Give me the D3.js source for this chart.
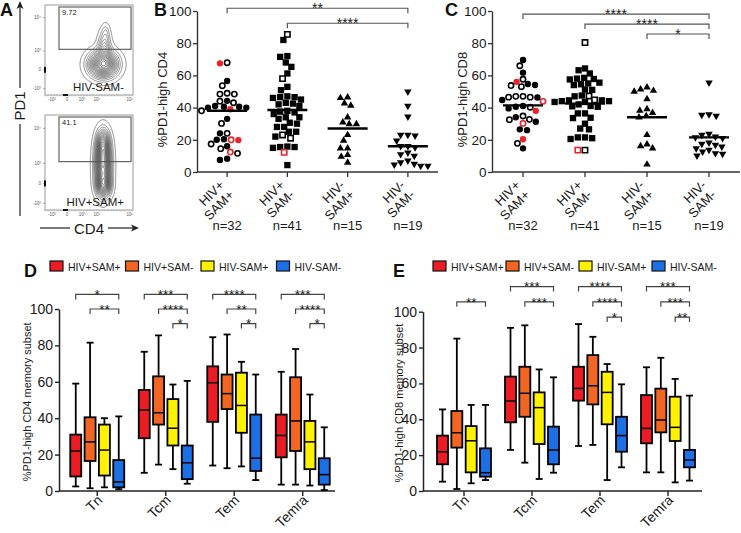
<!DOCTYPE html>
<html><head><meta charset="utf-8">
<script src="https://cdn.jsdelivr.net/npm/d3@7"></script>
<style>
body{margin:0;background:#fff}
svg{display:block}
text{font-family:"Liberation Sans",Arial,Helvetica,sans-serif;fill:#1a1a1a}
</style></head>
<body><svg id="c" width="741" height="533"></svg>
<script>
// ================= DATA =================
const scatterCats = [["HIV+","SAM+"],["HIV+","SAM-"],["HIV-","SAM+"],["HIV-","SAM-"]];
const scatterN = ["n=32","n=41","n=15","n=19"];
const scatterShapes = ["circle","square","triangle","triangleDown"];
const yTicks = [0,20,40,60,80,100];

// style: f = filled black, o = open black, rf = red filled, ro = red open
const cd4HivPosSamPos = [[67.9,"o"],[67.5,"rf"],[56.5,"f"],[53.6,"o"],[48.4,"o"],[48.9,"o"],[48.4,"o"],[44,"o"],[44.2,"f"],[43,"o"],[40.5,"f"],[40.5,"f"],[41,"f"],[40,"f"],[40,"f"],[39,"rf"],[38,"o"],[33,"f"],[30.2,"o"],[24,"o"],[24,"f"],[20.3,"f"],[20,"ro"],[20,"f"],[19.8,"rf"],[17.4,"o"],[16,"f"],[14.5,"o"],[11.6,"o"],[12.4,"ro"],[7.5,"f"],[8.3,"f"]];
const cd4HivPosSamNeg = [[85.5,"o"],[82,"f"],[72,"f"],[71.5,"f"],[68,"f"],[65.3,"f"],[61.2,"f"],[58,"o"],[52.9,"f"],[50.8,"f"],[47,"f"],[46.5,"f"],[46.5,"f"],[46,"f"],[45,"f"],[43,"f"],[42.5,"f"],[42,"f"],[41,"f"],[38,"f"],[37.5,"f"],[37,"f"],[36,"f"],[34,"f"],[34,"f"],[33,"f"],[30.6,"f"],[30,"f"],[28,"f"],[28,"f"],[25,"f"],[25,"f"],[23,"o"],[21,"o"],[22,"f"],[15.8,"f"],[15.5,"f"],[15.5,"f"],[15,"f"],[12.2,"ro"],[4.3,"f"]];
const cd4HivNegSamPos = [46.4,46,41.2,42.7,34,29.8,29.8,30.9,23,19.5,14.7,14.7,10.6,9.5,5.8];
const cd4HivNegSamNeg = [49.9,41,34.4,23,23,22.6,19.5,16,15.3,16.1,11,10,12,7,6,5,3.8,3.8,4.5];
const cd4Medians = [38,38.5,27,16];
const cd4Sig = [[0,3,"**"],[1,3,"****"]];
const cd4SigLevels = [101.7,92.4];

const cd8HivPosSamPos = [[69.6,"f"],[66,"o"],[61.7,"f"],[57.6,"o"],[56,"rf"],[54.7,"f"],[54,"f"],[53,"o"],[53.7,"o"],[47,"o"],[46.5,"o"],[46.5,"o"],[46.3,"f"],[47,"o"],[44.7,"f"],[43.9,"ro"],[41,"f"],[40.2,"o"],[40.5,"f"],[38,"rf"],[39.5,"f"],[32.7,"o"],[34.8,"o"],[32.5,"o"],[34,"f"],[31.2,"f"],[30.2,"ro"],[26,"f"],[26.5,"f"],[20.3,"rf"],[17.8,"o"],[14.7,"f"]];
const cd8HivPosSamNeg = [[80.4,"o"],[64.3,"f"],[63.2,"f"],[61.2,"f"],[58.5,"f"],[57.8,"f"],[58,"f"],[57.5,"f"],[55,"f"],[54.5,"f"],[54,"f"],[55.5,"f"],[51.2,"f"],[51,"f"],[47.5,"f"],[47,"f"],[47.2,"o"],[44.5,"f"],[44,"f"],[43.5,"f"],[43.5,"f"],[44,"f"],[44.5,"f"],[44.8,"o"],[42,"f"],[40.5,"f"],[40.8,"f"],[41,"f"],[36.4,"f"],[36.4,"f"],[33.7,"f"],[33.5,"f"],[30,"f"],[27,"f"],[26.5,"f"],[21.5,"f"],[20.5,"f"],[21,"f"],[21.5,"f"],[13.6,"o"],[13.6,"ro"]];
const cd8HivNegSamPos = [52.6,49.9,50.5,51.3,45.3,38.1,39.1,36.8,34.8,34,23,16.1,14.7,17.2,4.7];
const cd8HivNegSamNeg = [55.5,35.4,34.8,35.8,23.6,23,18.2,16.8,15.7,17.4,13.7,11.6,10.1,11.2,12.6,14.7,21,21.5,22];
const cd8Medians = [41.4,42.5,34,21.5];
const cd8Sig = [[0,3,"****"],[1,3,"****"],[2,3,"*"]];
const cd8SigLevels = [98.1,91.9,85.7];

// Box plots: [whiskerLow, Q1, median, Q3, whiskerHigh] per subset
const subsets = ["Tn","Tcm","Tem","Temra"];
const boxGroups = ["HIV+SAM+","HIV+SAM-","HIV-SAM+","HIV-SAM-"];
const boxColors = ["#ec1c24","#f26522","#fff200","#1d6fe6"];

const boxCD4HivPosSamPos = [[2.5,8,22,31,59],[10,29,44.5,55.5,76.5],[14,38,59.5,68.5,84.5],[3.5,18.5,30.5,42,65.5]];
const boxCD4HivPosSamNeg = [[1.5,16.5,27,40.5,81.5],[14.5,36.5,43,63,85.5],[12.5,45,53.5,64,86],[3.5,22,38.5,62.5,78]];
const boxCD4HivNegSamPos = [[2,8.5,22.5,36.5,40],[12,25,34.5,50.5,58.5],[13.5,32,47,65,71],[3,12,27,38.5,53]];
const boxCD4HivNegSamNeg = [[1,2,5,17,41],[4,6.5,15.5,25,60.5],[6,11,18,42,64],[0.5,3.5,9,18,35]];
// [subset, fromGroup, toGroup, level, label]
const boxCD4Sig = [[0,0,3,1,"*"],[0,1,3,2,"**"],[1,0,3,1,"***"],[1,1,3,2,"****"],[1,2,3,3,"*"],[2,0,3,1,"****"],[2,1,3,2,"**"],[2,2,3,3,"*"],[3,0,3,1,"***"],[3,1,3,2,"****"],[3,2,3,3,"*"]];
const boxCD4SigLevels = [108,100,92];

const boxCD8HivPosSamPos = [[5.2,14.9,21.9,30.9,45.5],[22.9,38.3,50.2,63.8,91],[25.1,50.4,57.2,69.3,93.1],[10.4,26.6,34.9,53.5,69]];
const boxCD8HivPosSamNeg = [[1.1,24.2,32.5,44.6,85],[15.8,41.4,54.5,69.3,92.4],[25.7,48.3,58.7,75.8,86],[10.4,32.7,39.6,57.1,74.3]];
const boxCD8HivNegSamPos = [[4.3,10.4,28,36.2,48],[6.7,26.2,46.5,55,67.8],[6.1,37.2,55,66.5,70.8],[4.8,27.9,35.5,52.6,62.5]];
const boxCD8HivNegSamNeg = [[6.1,8,10.2,23.8,48],[10.2,14.9,22.9,35.9,63.4],[13.2,21.9,30.9,41.4,59.5],[5.8,13.2,17.3,22.9,53.2]];
const boxCD8Sig = [[0,1,3,2,"**"],[1,0,3,1,"***"],[1,1,3,2,"***"],[2,0,3,1,"****"],[2,1,3,2,"****"],[2,2,3,3,"*"],[3,0,3,1,"***"],[3,1,3,2,"***"],[3,2,3,3,"**"]];
const boxCD8SigLevels = [114,105.5,97];

// Flow cytometry panel
const flowPercents = ["9.72","41.1"];
const flowLabels = ["HIV-SAM-","HIV+SAM+"];
// density blobs: [cx, cy, sx, sy, weight] in frame fractions
const flowBlobsTop = [[0.66,0.66,0.10,0.09,1],[0.675,0.47,0.045,0.11,0.32],[0.69,0.30,0.028,0.06,0.09]];
const flowBlobsBottom = [[0.66,0.52,0.055,0.17,1],[0.66,0.30,0.045,0.09,0.45],[0.665,0.74,0.05,0.07,0.55]];
const flowYTicks = ["10⁴","10³","0","-10³"];
const flowXTicks = ["-10³","0","10³","10⁴","10⁵"];

// ================= DRAW =================
const svg = d3.select("#c");

function letter(t,x,y){
  svg.append("text").attr("x",x).attr("y",y).text(t)
    .attr("font-size",18).attr("font-weight","bold").style("fill","#111");
}

// ---------- Panel A ----------
(function(){
  const g = svg.append("g");
  letter("A",0,16);
  const frames = [{y:5,h:90,blobs:flowBlobsTop},{y:115,h:95,blobs:flowBlobsBottom}];
  const fx=45, fw=88;
  const yFrac=[0.14,0.51,0.72,0.93];
  const xsPos=d3.scaleOrdinal().domain(flowXTicks).range([7,22,37,52,85]);
  frames.forEach((f,k)=>{
    const fg = g.append("g").attr("transform",`translate(${fx},${f.y})`);
    const nx=fw, ny=f.h, vals=new Float64Array(nx*ny);
    for(let j=0;j<ny;j++) for(let i=0;i<nx;i++){
      const u=(i+0.5)/nx, v=(j+0.5)/ny; let s=0;
      f.blobs.forEach(([cx,cy,sx,sy,w])=>{ s+=w*Math.exp(-((u-cx)**2/(2*sx*sx)+(v-cy)**2/(2*sy*sy))); });
      vals[j*nx+i]=s;
    }
    const mx=d3.max(vals);
    const th=d3.range(0.03,0.97,0.055).map(t=>t*mx);
    const cs=d3.contours().size([nx,ny]).thresholds(th)(vals);
    fg.selectAll("path.ct").data(cs).join("path").attr("class","ct")
      .attr("d",d3.geoPath()).attr("fill","none").attr("stroke","#333").attr("stroke-width",0.55);
    fg.append("rect").attr("width",fw).attr("height",f.h).attr("fill","none").attr("stroke","#9a9a9a").attr("stroke-width",1);
    fg.append("rect").attr("x",14).attr("y",2).attr("width",72).attr("height",f.h*0.47)
      .attr("fill","none").attr("stroke","#555").attr("stroke-width",1.1);
    fg.append("text").attr("x",17).attr("y",10).text(flowPercents[k]).attr("font-size",7.5);
    fg.append("text").attr("x",79).attr("y",f.h-4).attr("text-anchor","end").text(flowLabels[k])
      .attr("font-size",11.5).attr("font-family","'Open Sans',sans-serif");
    flowYTicks.forEach((t,i)=>{
      const yy = f.h*yFrac[i];
      fg.append("text").attr("x",-4).attr("y",yy+1.5).attr("text-anchor","end").attr("font-size",4.5).text(t).style("fill","#555");
      fg.append("line").attr("x1",-2).attr("x2",0).attr("y1",yy).attr("y2",yy).attr("stroke","#777").attr("stroke-width",0.6);
    });
    flowXTicks.forEach(t=>{
      fg.append("text").attr("x",xsPos(t)).attr("y",f.h+6).attr("text-anchor","middle").attr("font-size",4.5).text(t).style("fill","#555");
    });
    d3.range(0,fw,3).forEach(xx=>fg.append("line").attr("x1",xx).attr("x2",xx).attr("y1",f.h).attr("y2",f.h+1.5).attr("stroke","#888").attr("stroke-width",0.5));
    fg.append("rect").attr("x",-1).attr("y",f.h*0.72-3).attr("width",2).attr("height",6).attr("fill","#111");
    fg.append("rect").attr("x",18).attr("y",f.h-1).attr("width",5).attr("height",2).attr("fill","#111");
  });
  g.append("line").attr("x1",20).attr("x2",20).attr("y1",5).attr("y2",88).attr("stroke","#222").attr("stroke-width",1.2);
  g.append("path").attr("d","M20,1 L16.5,9 L20,7 L23.5,9 Z").attr("fill","#222");
  g.append("line").attr("x1",20).attr("x2",20).attr("y1",124).attr("y2",216).attr("stroke","#222").attr("stroke-width",1.2);
  g.append("text").attr("transform","translate(25,106) rotate(-90)").attr("text-anchor","middle").text("PD1")
    .attr("font-size",15).attr("font-family","'Open Sans',sans-serif");
  g.append("line").attr("x1",40).attr("x2",70).attr("y1",228).attr("y2",228).attr("stroke","#222").attr("stroke-width",1.2);
  g.append("line").attr("x1",108).attr("x2",136).attr("y1",228).attr("y2",228).attr("stroke","#222").attr("stroke-width",1.2);
  g.append("path").attr("d","M139,228 L131,224.5 L133,228 L131,231.5 Z").attr("fill","#222");
  g.append("text").attr("x",89).attr("y",233.5).attr("text-anchor","middle").text("CD4")
    .attr("font-size",15).attr("font-family","'Open Sans',sans-serif");
})();

// ---------- Scatter panels ----------
function symbolPath(shape, filled){
  let type, size;
  if(shape==="circle"){type=d3.symbolCircle; size=filled?32:22;}
  else if(shape==="square"){type=d3.symbolSquare; size=filled?40:28;}
  else {type=d3.symbolTriangle; size=24;}
  return d3.symbol().type(type).size(size)();
}
function swarm(points, y, cx, d){
  const placed=[];
  const sorted = points.slice().sort((a,b)=>b.v-a.v);
  sorted.forEach(p=>{
    const py=y(p.v);
    let best=cx;
    for(let k=0;k<200;k++){
      const off = (k%2===0? 1:-1)*Math.ceil(k/2)*0.8;
      const px=cx+off;
      if(placed.every(q=>(q.x-px)**2+(q.y-py)**2 >= d*d)){best=px;break;}
    }
    p.x=best; p.y=py; placed.push(p);
  });
  return sorted;
}
function drawScatter(cfg){
  const g=svg.append("g");
  const y=d3.scaleLinear().domain([0,100]).range([cfg.y0,cfg.y1]);
  const x=d3.scaleBand().domain(d3.range(4)).range([cfg.x0,cfg.x1]);
  const cx=i=>x(i)+x.bandwidth()/2;
  const ya=g.append("g").attr("transform",`translate(${cfg.x0},0)`)
    .call(d3.axisLeft(y).tickValues(yTicks).tickSize(4).tickPadding(1.5).tickSizeOuter(0));
  ya.select(".domain").attr("stroke","#333").attr("stroke-width",1.4);
  ya.selectAll(".tick line").attr("stroke","#333").attr("stroke-width",1.3);
  ya.selectAll(".tick text").attr("font-size",13.5).attr("font-family","'Liberation Sans',Arial,sans-serif").style("fill","#1a1a1a");
  g.append("line").attr("x1",cfg.x0).attr("x2",cfg.x1).attr("y1",cfg.y0).attr("y2",cfg.y0).attr("stroke","#333").attr("stroke-width",1.4);
  d3.range(4).forEach(i=>{
    g.append("line").attr("x1",cx(i)).attr("x2",cx(i)).attr("y1",cfg.y0).attr("y2",cfg.y0+5).attr("stroke","#333").attr("stroke-width",1.3);
    const t=g.append("text").attr("transform",`translate(${cx(i)-2},${cfg.y0+14}) rotate(-45)`).attr("text-anchor","end").attr("font-size",13);
    t.append("tspan").attr("x",0).attr("dy",0).text(scatterCats[i][0]);
    t.append("tspan").attr("x",0).attr("dy","1.05em").text(scatterCats[i][1]);
    g.append("text").attr("x",cx(i)).attr("y",cfg.y0+58).attr("text-anchor","middle").attr("font-size",13).text(scatterN[i]);
  });
  g.append("text").attr("transform",`translate(${cfg.labelX},${y(45)}) rotate(-90)`).attr("text-anchor","middle")
    .attr("font-size",13).text(cfg.ylabel);
  cfg.groups.forEach((arr,i)=>{
    const pts=arr.map(a=>Array.isArray(a)?{v:a[0],s:a[1]}:{v:a,s:"f"});
    swarm(pts,y,cx(i),6.6).forEach(p=>{
      const filled = p.s==="f"||p.s==="rf";
      const red = p.s==="rf"||p.s==="ro";
      const col = red?"#e8232b":"#000";
      const sh=scatterShapes[i];
      g.append("path").attr("d",symbolPath(sh,filled))
        .attr("transform",`translate(${p.x},${p.y})${sh==="triangleDown"?" rotate(180)":""}`)
        .attr("fill",filled?col:"#fff").attr("stroke",filled?"none":col).attr("stroke-width",1.6);
    });
    g.append("line").attr("x1",cx(i)-20).attr("x2",cx(i)+20).attr("y1",y(cfg.medians[i])).attr("y2",y(cfg.medians[i]))
      .attr("stroke","#000").attr("stroke-width",2.4);
  });
  cfg.sig.forEach(([a,b,lab],k)=>{
    const yy=y(cfg.sigLevels[k]);
    g.append("path").attr("d",`M${cx(a)},${yy+5}V${yy}H${cx(b)}V${yy+5}`).attr("fill","none").attr("stroke","#555").attr("stroke-width",1.2);
    g.append("text").attr("x",(cx(a)+cx(b))/2).attr("y",yy+4.8).attr("text-anchor","middle").attr("font-size",14).style("fill","#1a1a1a").text(lab);
  });
}
letter("B",154,16);
drawScatter({x0:197,x1:438,y0:172,y1:11,labelX:167,ylabel:"%PD1-high CD4",
  groups:[cd4HivPosSamPos,cd4HivPosSamNeg,cd4HivNegSamPos,cd4HivNegSamNeg],medians:cd4Medians,sig:cd4Sig,sigLevels:cd4SigLevels});
letter("C",445,16);
drawScatter({x0:492,x1:740,y0:172,y1:11,labelX:467,ylabel:"%PD1-high CD8",
  groups:[cd8HivPosSamPos,cd8HivPosSamNeg,cd8HivNegSamPos,cd8HivNegSamNeg],medians:cd8Medians,sig:cd8Sig,sigLevels:cd8SigLevels});

// ---------- Box panels ----------
function drawBox(cfg){
  const g=svg.append("g");
  const y=d3.scaleLinear().domain([0,100]).range([cfg.y0,cfg.y1]);
  const xb=d3.scaleBand().domain(subsets).range([cfg.xr0,cfg.xr1]);
  const xi=d3.scalePoint().domain(d3.range(4)).range([-21.5,21.5]);
  const cx=(s,gi)=>xb(subsets[s])+xb.bandwidth()/2+xi(gi);
  const bw=11, cap=7;
  letter(cfg.letter,cfg.letterX,277);
  boxGroups.forEach((name,i)=>{
    const lx=cfg.legX+i*cfg.legStep;
    g.append("rect").attr("x",lx).attr("y",261).attr("width",13).attr("height",10).attr("fill",boxColors[i]).attr("stroke","#111").attr("stroke-width",1.2);
    g.append("text").attr("x",lx+18).attr("y",270.5).attr("font-size",10.5).text(name);
  });
  const ya=g.append("g").attr("transform",`translate(${cfg.ax},0)`)
    .call(d3.axisLeft(y).tickValues(yTicks).tickSize(4).tickPadding(2).tickSizeOuter(0));
  ya.select(".domain").attr("stroke","#222").attr("stroke-width",1.5);
  ya.selectAll(".tick line").attr("stroke","#222").attr("stroke-width",1.4);
  ya.selectAll(".tick text").attr("font-size",14).attr("font-family","'Liberation Sans',Arial,sans-serif").style("fill","#1a1a1a");
  g.append("line").attr("x1",cfg.ax).attr("x2",cfg.axEnd).attr("y1",cfg.y0).attr("y2",cfg.y0).attr("stroke","#222").attr("stroke-width",1.5);
  subsets.forEach((s,si)=>{
    const c=xb(s)+xb.bandwidth()/2;
    g.append("line").attr("x1",c).attr("x2",c).attr("y1",cfg.y0).attr("y2",cfg.y0+5).attr("stroke","#222").attr("stroke-width",1.4);
    g.append("text").attr("transform",`translate(${c+6},${cfg.y0+10}) rotate(-45)`).attr("text-anchor","end").attr("font-size",14).text(s);
  });
  g.append("text").attr("transform",`translate(${cfg.labelX},${y(49)}) rotate(-90)`).attr("text-anchor","middle")
    .attr("font-size",11).text(cfg.ylabel);
  cfg.data.forEach((arr,gi)=>{
    arr.forEach(([lo,q1,md,q3,hi],si)=>{
      const c=cx(si,gi);
      g.append("line").attr("x1",c).attr("x2",c).attr("y1",y(lo)).attr("y2",y(hi)).attr("stroke","#000").attr("stroke-width",1.8);
      [lo,hi].forEach(v=>g.append("line").attr("x1",c-cap/2).attr("x2",c+cap/2).attr("y1",y(v)).attr("y2",y(v)).attr("stroke","#000").attr("stroke-width",1.8));
      g.append("rect").attr("x",c-bw/2).attr("y",y(q3)).attr("width",bw).attr("height",y(q1)-y(q3))
        .attr("fill",boxColors[gi]).attr("stroke","#000").attr("stroke-width",1.8);
      g.append("line").attr("x1",c-bw/2).attr("x2",c+bw/2).attr("y1",y(md)).attr("y2",y(md)).attr("stroke","#000").attr("stroke-width",1.5);
    });
  });
  cfg.sig.forEach(([s,a,b,lv,lab])=>{
    const yy=y(cfg.levels[lv-1]), x1=cx(s,a), x2=cx(s,b);
    g.append("path").attr("d",`M${x1},${yy+5}V${yy}H${x2}V${yy+5}`).attr("fill","none").attr("stroke","#444").attr("stroke-width",1.2);
    g.append("text").attr("x",(x1+x2)/2).attr("y",yy+4.8).attr("text-anchor","middle").attr("font-size",13.5).text(lab);
  });
}
drawBox({letter:"D",letterX:24,legX:50,legStep:75.5,y0:491,y1:309,xr0:63,xr1:337,ax:59,axEnd:335,labelX:31,
  ylabel:"%PD1-high CD4 memory subset",
  data:[boxCD4HivPosSamPos,boxCD4HivPosSamNeg,boxCD4HivNegSamPos,boxCD4HivNegSamNeg],sig:boxCD4Sig,levels:boxCD4SigLevels});
drawBox({letter:"E",letterX:393,legX:433,legStep:73,y0:491,y1:311.7,xr0:430,xr1:702,ax:423,axEnd:702,labelX:403,
  ylabel:"%PD1-high CD8 memory subset",
  data:[boxCD8HivPosSamPos,boxCD8HivPosSamNeg,boxCD8HivNegSamPos,boxCD8HivNegSamNeg],sig:boxCD8Sig,levels:boxCD8SigLevels});
</script></body></html>
